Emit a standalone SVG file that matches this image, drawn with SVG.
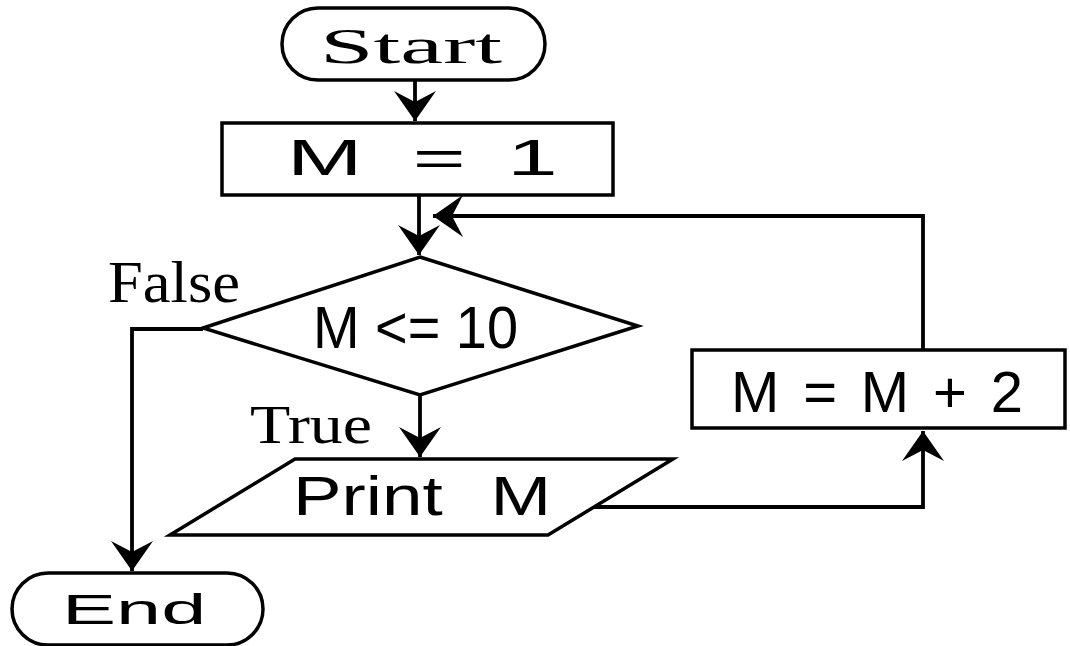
<svg xmlns="http://www.w3.org/2000/svg" width="1070" height="646" viewBox="0 0 1070 646">
  <style>
    .shape { fill: #fff; stroke: #000; stroke-width: 3.5; }
    .conn { fill: none; stroke: #000; stroke-width: 3.8; }
    .serif { font-family: "Liberation Serif", "Times New Roman", serif; fill: #000; }
    .sans { font-family: "Liberation Sans", Arial, sans-serif; fill: #000; }
  </style>
  <defs>
    <marker id="ah" viewBox="-32 -23 34 46" refX="0" refY="0" markerWidth="34" markerHeight="46" markerUnits="userSpaceOnUse" orient="auto">
      <path d="M0,0 L-30,-21 L-19,0 L-30,21 Z" fill="#000"/>
    </marker>
  </defs>
  <rect width="1070" height="646" fill="#fff"/>

  <g id="connectors">
    <path class="conn" d="M415,80 V121" marker-end="url(#ah)"/>
    <path class="conn" d="M419,195 V255" marker-end="url(#ah)"/>
    <path class="conn" d="M923,350 V216 H433" marker-end="url(#ah)"/>
    <path class="conn" d="M203,329 H132 V571" marker-end="url(#ah)"/>
    <path class="conn" d="M420,395 V457" marker-end="url(#ah)"/>
    <path class="conn" d="M594,507 H923 V431" marker-end="url(#ah)"/>
  </g>

  <g id="start">
    <rect class="shape" x="282" y="8" width="263" height="72" rx="36"/>
    <text class="serif" x="320" y="63" font-size="50" textLength="182" lengthAdjust="spacingAndGlyphs">Start</text>
  </g>

  <g id="init">
    <rect class="shape" x="222" y="123" width="391" height="72"/>
    <text class="sans" transform="translate(287,175) scale(1.85,1)" font-size="49"><tspan x="0">M</tspan> <tspan x="68">=</tspan> <tspan x="119">1</tspan></text>
  </g>

  <g id="decision">
    <polygon class="shape" points="420,257 638,326 420,395 203,328"/>
    <text class="sans" x="313" y="348" font-size="60" textLength="205" lengthAdjust="spacingAndGlyphs">M &lt;= 10</text>
  </g>

  <g id="label-false">
    <text class="serif" x="108" y="302" font-size="60" textLength="132" lengthAdjust="spacingAndGlyphs">False</text>
  </g>

  <g id="label-true">
    <text class="serif" x="250" y="443" font-size="54" textLength="122" lengthAdjust="spacingAndGlyphs">True</text>
  </g>

  <g id="print">
    <polygon class="shape" points="295,459 673,459 548,535 170,535"/>
    <text class="sans" transform="translate(293,515) scale(1.3,1)" font-size="56"><tspan x="0">Print</tspan> <tspan x="152">M</tspan></text>
  </g>

  <g id="increment">
    <rect class="shape" x="692" y="350" width="373" height="78"/>
    <text class="sans" x="731" y="412" font-size="58" textLength="292" lengthAdjust="spacing">M = M + 2</text>
  </g>

  <g id="end">
    <rect class="shape" x="12" y="573" width="251" height="72" rx="36"/>
    <text class="sans" transform="translate(62,624) scale(1.93,1)" font-size="42">End</text>
  </g>
</svg>
